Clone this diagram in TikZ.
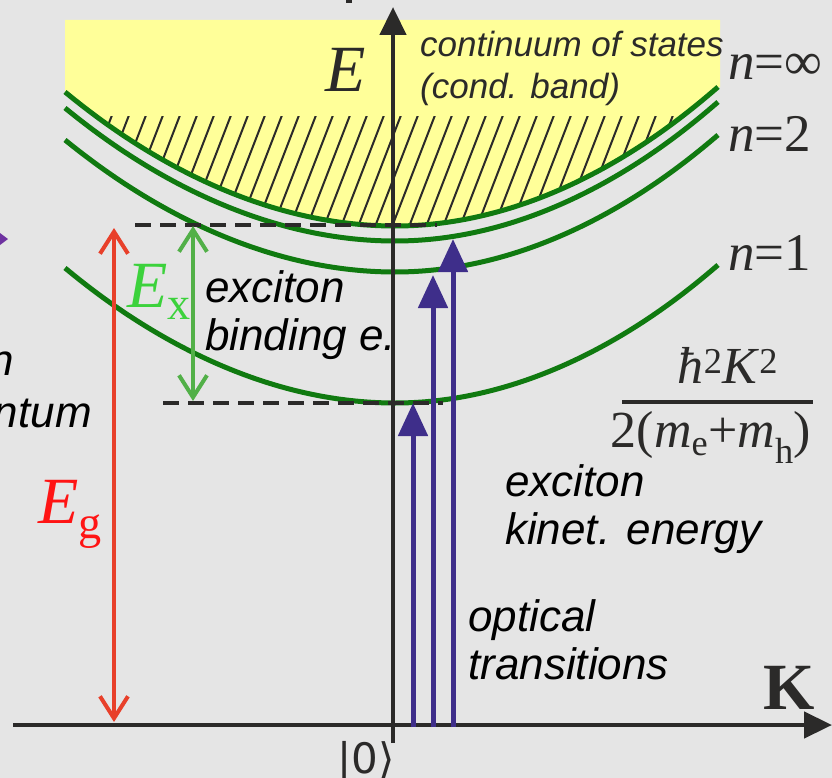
\documentclass[tikz,border=0pt]{standalone}
\usepackage{fontspec}
\setmainfont{Liberation Sans}
\newfontfamily\serifnum{Liberation Serif}
\newfontfamily\symfont{DejaVu Sans}
\usetikzlibrary{arrows.meta}

\definecolor{bggray}{RGB}{229,229,229}
\definecolor{bandyellow}{RGB}{255,255,153}
\definecolor{axisdark}{RGB}{43,42,41}
\definecolor{levelgreen}{RGB}{16,122,16}
\definecolor{egred}{RGB}{255,20,20}
\definecolor{egarrow}{RGB}{232,64,42}
\definecolor{exgreen}{RGB}{60,210,60}
\definecolor{exarrow}{RGB}{82,176,72}
\definecolor{optblue}{RGB}{62,46,138}
\definecolor{tipviolet}{RGB}{110,50,160}

\begin{document}
\begin{tikzpicture}[
                x=1pt, y=-1pt,
                axis_line/.style={line width=4.5pt, draw=axisdark, -{Triangle[length=28pt, width=26pt]}},
                level_curve/.style={line width=5pt, draw=levelgreen},
                hatch_line/.style={line width=2pt, draw=axisdark},
                dash_line/.style={line width=4pt, draw=axisdark, dash pattern=on 16pt off 9pt},
                gap_arrow/.style={line width=4pt, {Straight Barb[length=22pt, width=28pt]}-{Straight Barb[length=22pt, width=28pt]}},
                opt_arrow/.style={line width=5pt, draw=optblue, -{Triangle[length=33pt, width=29pt]}},
                note_text/.style={font=\fontsize{44}{48}\selectfont\itshape, align=left, inner sep=0pt, anchor=north west},
                level_label/.style={font=\serifnum\fontsize{53}{53}\selectfont, text=axisdark, inner sep=0pt, anchor=base west},
                big_label/.style={font=\serifnum\fontsize{66}{66}\selectfont, inner sep=0pt, anchor=base west}
            ]
                \useasboundingbox (0,0) rectangle (832,778);
                \clip (0,0) rectangle (832,778);
                \fill[bggray] (0,0) rectangle (832,778);

                % Continuum (conduction band)
                \fill[bandyellow] (65,20) -- (65,92) parabola bend (395,226) (718,87) -- (720,87) -- (720,20) -- cycle;
                \begin{scope}
                    \clip (65,117) rectangle (720,300);
                    \clip (65,92) parabola bend (395,226) (718,87) -- (718,0) -- (65,0) -- cycle;
                    \foreach \k in {0,...,40}
                        \draw[hatch_line] (60+17*\k,250) -- ++(54,-140);
                \end{scope}

                % Exciton levels
                \draw[level_curve] (65,92) parabola bend (395,226) (718,87);
                \draw[level_curve] (65,108) parabola bend (395,241) (718,102);
                \draw[level_curve] (65,140) parabola bend (395,272) (718,135);
                \draw[level_curve] (65,268) parabola bend (395,403) (718,265);

                % Dashed reference levels
                \coordinate (dash_u_l) at (135,225);
                \coordinate (dash_u_r) at (437,225);
                \coordinate (dash_l_l) at (163,403);
                \coordinate (dash_l_r) at (443,403);
                \draw[dash_line] (dash_u_l) -- (dash_u_r);
                \draw[dash_line] (dash_l_l) -- (dash_l_r);

                % Axes
                \coordinate (k_start) at (13,725);
                \coordinate (k_end) at (832,725);
                \coordinate (e_start) at (393,743);
                \coordinate (e_end) at (393,7);
                \draw[axis_line] (k_start) -- (k_end);
                \draw[axis_line] (e_start) -- (e_end);

                % Gap and binding energy
                \coordinate (eg_top) at (114,228);
                \coordinate (eg_bot) at (114,722);
                \draw[gap_arrow, draw=egarrow] (eg_top) -- (eg_bot);
                \coordinate (ex_top) at (193,226);
                \coordinate (ex_bot) at (193,401);
                \draw[gap_arrow, draw=exarrow] (ex_top) -- (ex_bot);

                % Optical transitions
                \coordinate (opt1_lo) at (413,727);
                \coordinate (opt1_hi) at (413,403);
                \coordinate (opt2_lo) at (433,727);
                \coordinate (opt2_hi) at (433,275);
                \coordinate (opt3_lo) at (453,727);
                \coordinate (opt3_hi) at (453,239);
                \draw[opt_arrow] (opt1_lo) -- (opt1_hi);
                \draw[opt_arrow] (opt2_lo) -- (opt2_hi);
                \draw[opt_arrow] (opt3_lo) -- (opt3_hi);

                % Labels
                \node[big_label, text=axisdark, font=\serifnum\itshape\fontsize{66}{66}\selectfont] (e_label) at (325,92) {E};
                \node[big_label, text=axisdark, font=\serifnum\bfseries\fontsize{66}{66}\selectfont] (k_label) at (763,709) {K};
                \node[big_label, text=egred] (eg_label) at (38,523) {\textit{E}\textsubscript{g}};
                \node[big_label, text=exgreen] (ex_label) at (127,307) {\textit{E}\textsubscript{x}};
                \node[level_label] (n_inf) at (728,80) {\textit{n}=∞};
                \node[level_label] (n_two) at (728,152) {\textit{n}=2};
                \node[level_label] (n_one) at (728,270) {\textit{n}=1};
                \node[font=\symfont\fontsize{42}{42}\selectfont, text=axisdark, inner sep=0pt, anchor=base west] (ket_label) at (337,773) {|0⟩};

                \node[note_text, text=axisdark, font=\fontsize{35}{42}\selectfont\itshape] (continuum) at (420,31) {continuum of states\\(cond. band)};
                \node[note_text] (binding) at (205,270) {exciton\\binding e.};
                \node[note_text] (kinetic) at (505,464) {exciton\\kinet. energy};
                \node[note_text] (optical) at (468,599) {optical\\transitions};
                \node[note_text, anchor=base east] (mom_a) at (14,375) {n};
                \node[note_text, anchor=base east] (mom_b) at (92,427) {ntum};

                % Kinetic energy term
                \node[font=\serifnum\fontsize{52}{52}\selectfont, text=axisdark, inner sep=0pt, anchor=base] (frac_num) at (728,383) {\textit{ħ}\textsuperscript{2}\textit{K}\textsuperscript{2}};
                \node[font=\serifnum\fontsize{52}{52}\selectfont, text=axisdark, inner sep=0pt, anchor=base] (frac_den) at (711,447) {2(\textit{m}\textsubscript{e}+\textit{m}\textsubscript{h})};
                \coordinate (bar_l) at (622,402);
                \coordinate (bar_r) at (813,402);
                \draw[line width=4pt, axisdark] (bar_l) -- (bar_r);

                % Cut-off marks at the edges
                \fill[tipviolet] (0,233) -- (8,239) -- (0,245) -- cycle;
                \fill[axisdark] (346,0) rectangle (352,3);

            \end{tikzpicture}
\end{document}
